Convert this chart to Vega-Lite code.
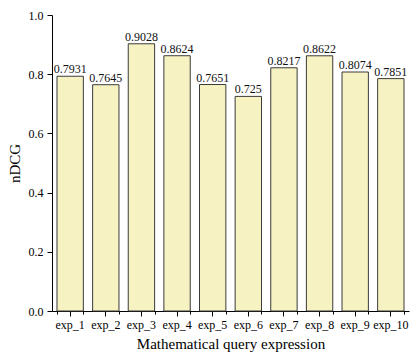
{
  "$schema": "https://vega.github.io/schema/vega-lite/v6.json",
  "width": 357,
  "height": 296,
  "autosize": "none",
  "padding": {"left": 52, "top": 15, "right": 9, "bottom": 48},
  "config": {
    "font": "Liberation Serif",
    "view": {"stroke": null},
    "axis": {
      "grid": false,
      "domainColor": "#000000",
      "tickColor": "#000000",
      "labelColor": "#000000",
      "titleColor": "#000000",
      "labelFontSize": 12,
      "titleFontSize": 15,
      "titleFontWeight": "normal",
      "labelFont": "Liberation Serif",
      "titleFont": "Liberation Serif"
    }
  },
  "data": {
    "values": [
      {"exp": "exp_1", "ndcg": 0.7931},
      {"exp": "exp_2", "ndcg": 0.7645},
      {"exp": "exp_3", "ndcg": 0.9028},
      {"exp": "exp_4", "ndcg": 0.8624},
      {"exp": "exp_5", "ndcg": 0.7651},
      {"exp": "exp_6", "ndcg": 0.725},
      {"exp": "exp_7", "ndcg": 0.8217},
      {"exp": "exp_8", "ndcg": 0.8622},
      {"exp": "exp_9", "ndcg": 0.8074},
      {"exp": "exp_10", "ndcg": 0.7851}
    ]
  },
  "layer": [
    {
      "mark": {"type": "bar", "fill": "#F6F2C2", "stroke": "#3a3a3a", "strokeWidth": 1},
      "encoding": {
        "x": {
          "field": "exp",
          "type": "nominal",
          "sort": null,
          "scale": {"paddingInner": 0.26, "paddingOuter": 0.14},
          "axis": {
            "title": "Mathematical query expression",
            "labelAngle": 0,
            "tickSize": 5,
            "labelPadding": 3,
            "titlePadding": 6,
            "orient": "bottom"
          }
        },
        "y": {
          "field": "ndcg",
          "type": "quantitative",
          "scale": {"domain": [0, 1], "nice": false},
          "axis": {
            "title": "nDCG",
            "values": [0, 0.1, 0.2, 0.3, 0.4, 0.5, 0.6, 0.7, 0.8, 0.9, 1.0],
            "labelExpr": "round(datum.value*10)%2==0 ? format(datum.value,'.1f') : ''",
            "tickSize": {"condition": {"test": "round(datum.value*10)%2==0", "value": 5}, "value": 3},
            "labelPadding": 4,
            "titlePadding": 6
          }
        }
      }
    },
    {
      "mark": {"type": "text", "baseline": "alphabetic", "dy": -3, "fontSize": 12, "color": "#111111"},
      "encoding": {
        "x": {
          "field": "exp",
          "type": "nominal",
          "sort": null,
          "axis": {
            "orient": "bottom",
            "labels": false,
            "title": null,
            "domain": false,
            "tickBand": "extent",
            "tickSize": 3
          }
        },
        "y": {"field": "ndcg", "type": "quantitative"},
        "text": {"field": "ndcg", "type": "quantitative"}
      }
    }
  ],
  "resolve": {"axis": {"x": "independent"}}
}
